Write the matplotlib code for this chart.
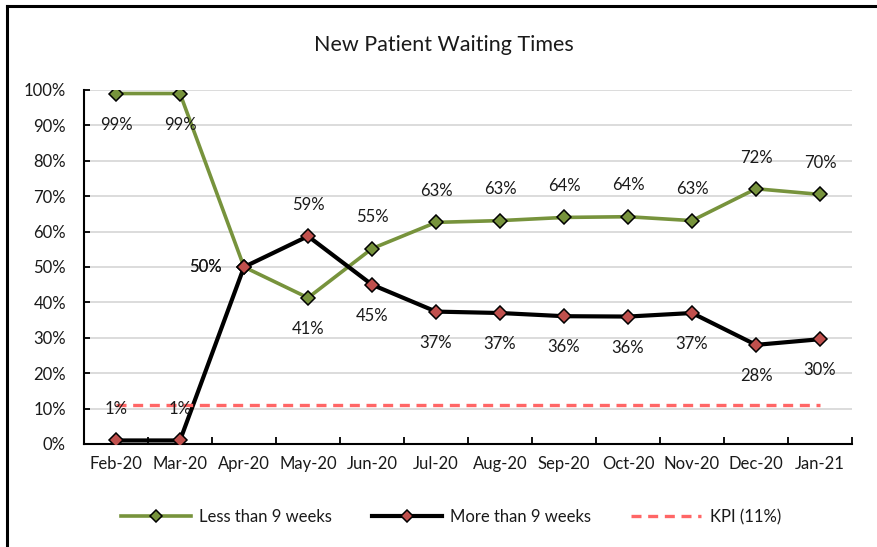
import matplotlib
matplotlib.use("Agg")
import matplotlib.pyplot as plt
from matplotlib.lines import Line2D
from matplotlib.ticker import PercentFormatter, FixedLocator, NullFormatter

plt.rcParams['font.family'] = ['Lato', 'DejaVu Sans']

months = ['Feb-20', 'Mar-20', 'Apr-20', 'May-20', 'Jun-20', 'Jul-20',
          'Aug-20', 'Sep-20', 'Oct-20', 'Nov-20', 'Dec-20', 'Jan-21']
less_9 = [99.0, 99.0, 50.0, 41.3, 55.2, 62.6, 63.1, 64.0, 64.2, 63.1, 72.1, 70.5]
more_9 = [1.0, 1.0, 50.0, 58.7, 45.0, 37.4, 37.0, 36.1, 36.0, 37.0, 28.0, 29.6]
kpi = [11.0] * len(months)

# label placement: +1 above, -1 below, 0 left of the point
less_pos = [-1, -1, 0, -1, 1, 1, 1, 1, 1, 1, 1, 1]
more_pos = [1, 1, 0, 1, -1, -1, -1, -1, -1, -1, -1, -1]

green = '#77933C'
red = '#C0504D'
kpi_col = '#FF6666'
txt = '#1a1a1a'
fs = 12

fig = plt.figure(figsize=(8.77, 5.47), dpi=100)
ax = fig.add_axes([0.0958, 0.1883, 0.8757, 0.6472])

x = list(range(len(months)))
ax.plot(x, less_9, color=green, lw=2.6, marker='D', ms=7.5,
        mfc=green, mec='black', mew=1.1, zorder=3, label='Less than 9 weeks')
ax.plot(x, more_9, color='black', lw=3.0, marker='D', ms=7.5,
        mfc=red, mec='black', mew=1.1, zorder=4, label='More than 9 weeks')
ax.plot(x, kpi, color=kpi_col, lw=2.4, ls=(0, (3, 2)), zorder=5, label='KPI (11%)')

for series, pos in ((less_9, less_pos), (more_9, more_pos)):
    for xi, v, p in zip(x, series, pos):
        off = (-28, 0) if p == 0 else (0, 22.5 * p)
        ax.annotate(f'{round(v):.0f}%', (xi, v), xytext=off, textcoords='offset points',
                    ha='center', va='center', fontsize=fs, color=txt, zorder=6)

ax.set_xlim(-0.5, len(months) - 0.5)
ax.set_ylim(0, 100)
ax.yaxis.set_major_locator(FixedLocator(range(0, 101, 10)))
ax.yaxis.set_major_formatter(PercentFormatter(decimals=0))
ax.grid(axis='y', color='#D9D9D9', lw=1.3, zorder=0)
ax.set_axisbelow(True)

ax.set_xticks(x)
ax.set_xticklabels(months)
ax.xaxis.set_minor_locator(FixedLocator([i + 0.5 for i in range(-1, len(months))]))
ax.xaxis.set_minor_formatter(NullFormatter())
ax.tick_params(axis='x', which='major', length=0, pad=9, labelsize=fs, labelcolor=txt)
ax.tick_params(axis='x', which='minor', direction='in', length=5, width=1.3)
ax.tick_params(axis='y', direction='in', length=4, width=1.3, labelsize=fs,
               labelcolor=txt, pad=13)

for s in ('top', 'right'):
    ax.spines[s].set_visible(False)
for s in ('left', 'bottom'):
    ax.spines[s].set_linewidth(1.5)

ax.set_title('New Patient Waiting Times', fontsize=15.5, color=txt, pad=28, x=0.469)

fig.legend(*ax.get_legend_handles_labels(), loc='center', bbox_to_anchor=(0.514, 0.055),
           ncol=3, frameon=False, fontsize=fs, handlelength=4.2, handletextpad=0.5,
           numpoints=1, markerscale=0.75, columnspacing=2.4, labelcolor=txt)

# outer border lines (top and left)
fig.add_artist(Line2D([0.0075, 1.0], [0.989, 0.989], color='black', lw=2.2,
                      transform=fig.transFigure))
fig.add_artist(Line2D([0.0075, 0.0075], [0.0, 0.989], color='black', lw=2.2,
                      transform=fig.transFigure))

fig.savefig('out.png', dpi=100)
